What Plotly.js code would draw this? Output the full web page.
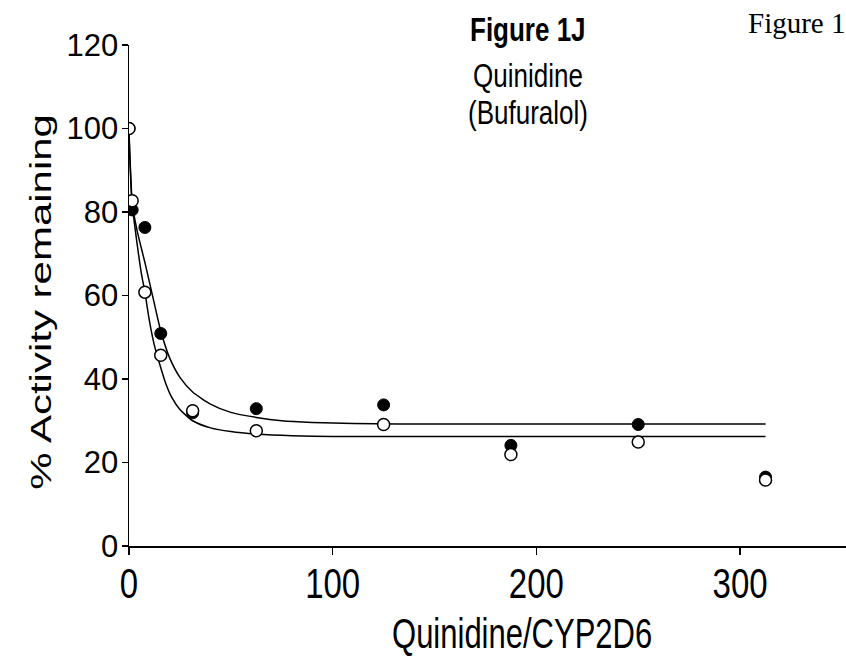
<!DOCTYPE html>
<html>
<head>
<meta charset="utf-8">
<script src="https://cdn.plot.ly/plotly-3.0.1.min.js"></script>
<style>
  html, body { margin: 0; padding: 0; background: #ffffff; }
  #chart { width: 846px; height: 662px; }
</style>
</head>
<body>
<div id="chart"></div>
<script>
// ---- data ----
const ratioFilled = [0, 1.56, 7.8, 15.6, 31.25, 62.5, 125, 187.5, 250, 312.5];
const activityFilled = [100, 80.5, 76.3, 50.9, 31.9, 32.9, 33.8, 24.1, 29.1, 16.5];

const ratioOpen = [0, 1.56, 7.8, 15.6, 31.25, 62.5, 125, 187.5, 250, 312.5];
const activityOpen = [100, 82.7, 60.8, 45.7, 32.4, 27.6, 29.1, 21.9, 24.9, 15.8];

// fitted curves
const fitFilledX = [0, 1.56, 4, 8, 12, 15.6, 20, 25, 31.25, 40, 50, 62.5, 75, 90, 110, 150, 312.5];
const fitFilledY = [99, 82, 75.5, 67.5, 59, 51.5, 45, 40.4, 36.9, 34.0, 32.0, 30.8, 30.0, 29.6, 29.35, 29.2, 29.2];

const fitOpenX = [0, 1.56, 3, 4.5, 6, 7.8, 10, 12.5, 15.6, 18, 21, 25, 31.25, 40, 50, 62.5, 80, 100, 150, 312.5];
const fitOpenY = [99, 82, 76, 70.5, 65.5, 60.8, 54, 48, 42.7, 39.0, 35.6, 32.7, 30.0, 28.3, 27.4, 26.8, 26.4, 26.25, 26.2, 26.2];

const xTicks = [0, 100, 200, 300];
const yTicks = [0, 20, 40, 60, 80, 100, 120];

const FONT = 'Liberation Sans, Arial, sans-serif';

const traces = [
  { x: fitFilledX, y: fitFilledY, mode: 'lines', line: { color: '#000', width: 1.5, shape: 'spline', smoothing: 0.6 }, hoverinfo: 'skip' },
  { x: fitOpenX, y: fitOpenY, mode: 'lines', line: { color: '#000', width: 1.5, shape: 'spline', smoothing: 0.6 }, hoverinfo: 'skip' },
  { x: ratioFilled, y: activityFilled, mode: 'markers', marker: { symbol: 'circle', size: 12, color: '#000', line: { color: '#000', width: 1 } } },
  { x: ratioOpen, y: activityOpen, mode: 'markers', marker: { symbol: 'circle', size: 12, color: '#fff', line: { color: '#000', width: 1.5 } } }
];

const layout = {
  width: 846, height: 662,
  paper_bgcolor: '#fff', plot_bgcolor: '#fff',
  showlegend: false,
  margin: { l: 129, r: 0, t: 45, b: 116 },
  font: { family: FONT, color: '#000' },
  xaxis: {
    range: [0, 352], tickvals: xTicks, ticktext: xTicks.map(String),
    showline: true, linecolor: '#000', linewidth: 1.5, showgrid: false, zeroline: false,
    ticks: 'outside', ticklen: 7, tickwidth: 1.3, tickcolor: '#000',
    tickfont: { family: FONT, size: 33, color: '#000' },
    automargin: false
  },
  yaxis: {
    range: [0, 120], tickvals: yTicks, ticktext: yTicks.map(String),
    showline: true, linecolor: '#000', linewidth: 1.5, showgrid: false, zeroline: false,
    ticks: 'outside', ticklen: 6, tickwidth: 1.3, tickcolor: '#000',
    ticklabelstandoff: -3,
    tickfont: { family: FONT, size: 31, color: '#000' },
    automargin: false
  },
  annotations: [
    { xref: 'paper', yref: 'paper', x: 0.5565, y: 1.030, xanchor: 'center', yanchor: 'middle', showarrow: false,
      text: '<b>Figure 1J</b>', font: { family: FONT, size: 26, color: '#000' } },
    { xref: 'paper', yref: 'paper', x: 0.5565, y: 0.938, xanchor: 'center', yanchor: 'middle', showarrow: false,
      text: 'Quinidine', font: { family: FONT, size: 26, color: '#000' } },
    { xref: 'paper', yref: 'paper', x: 0.5565, y: 0.864, xanchor: 'center', yanchor: 'middle', showarrow: false,
      text: '(Bufuralol)', font: { family: FONT, size: 26, color: '#000' } },
    { xref: 'paper', yref: 'paper', x: 0.861, y: 1.044, xanchor: 'left', yanchor: 'middle', showarrow: false,
      text: 'Figure 1', font: { family: 'Liberation Serif, Times New Roman, serif', size: 29, color: '#000' } },
    { xref: 'paper', yref: 'paper', x: 0.548, y: -0.1737, xanchor: 'center', yanchor: 'middle', showarrow: false,
      text: 'Quinidine/CYP2D6', font: { family: FONT, size: 31, color: '#000' } },
    { xref: 'paper', yref: 'paper', x: -0.124, y: 0.487, xanchor: 'center', yanchor: 'middle', showarrow: false, textangle: -90,
      text: '% Activity remaining', font: { family: FONT, size: 30, color: '#000' } }
  ]
};

function stretch(nodes, sx, sy) {
  nodes.forEach(t => {
    if (!t) return;
    const bb = t.getBBox();
    const cx = bb.x + bb.width / 2, cy = bb.y + bb.height / 2;
    const tr = t.getAttribute('transform') || '';
    t.setAttribute('transform', tr + ' translate(' + cx + ',' + cy + ') scale(' + sx + ',' + sy + ') translate(' + (-cx) + ',' + (-cy) + ')');
  });
}

Plotly.newPlot('chart', traces, layout, { staticPlot: true, displayModeBar: false }).then(() => {
  stretch(Array.from(document.querySelectorAll('.xtick text')), 1, 1.3);
  const ann = Array.from(document.querySelectorAll('.annotation-text'));
  // order follows layout.annotations
  stretch(ann.slice(0, 3), 1, 1.25);
  stretch([ann[4]], 1, 1.4);
  stretch([ann[5]], 1.4, 1);
});
</script>
</body>
</html>
